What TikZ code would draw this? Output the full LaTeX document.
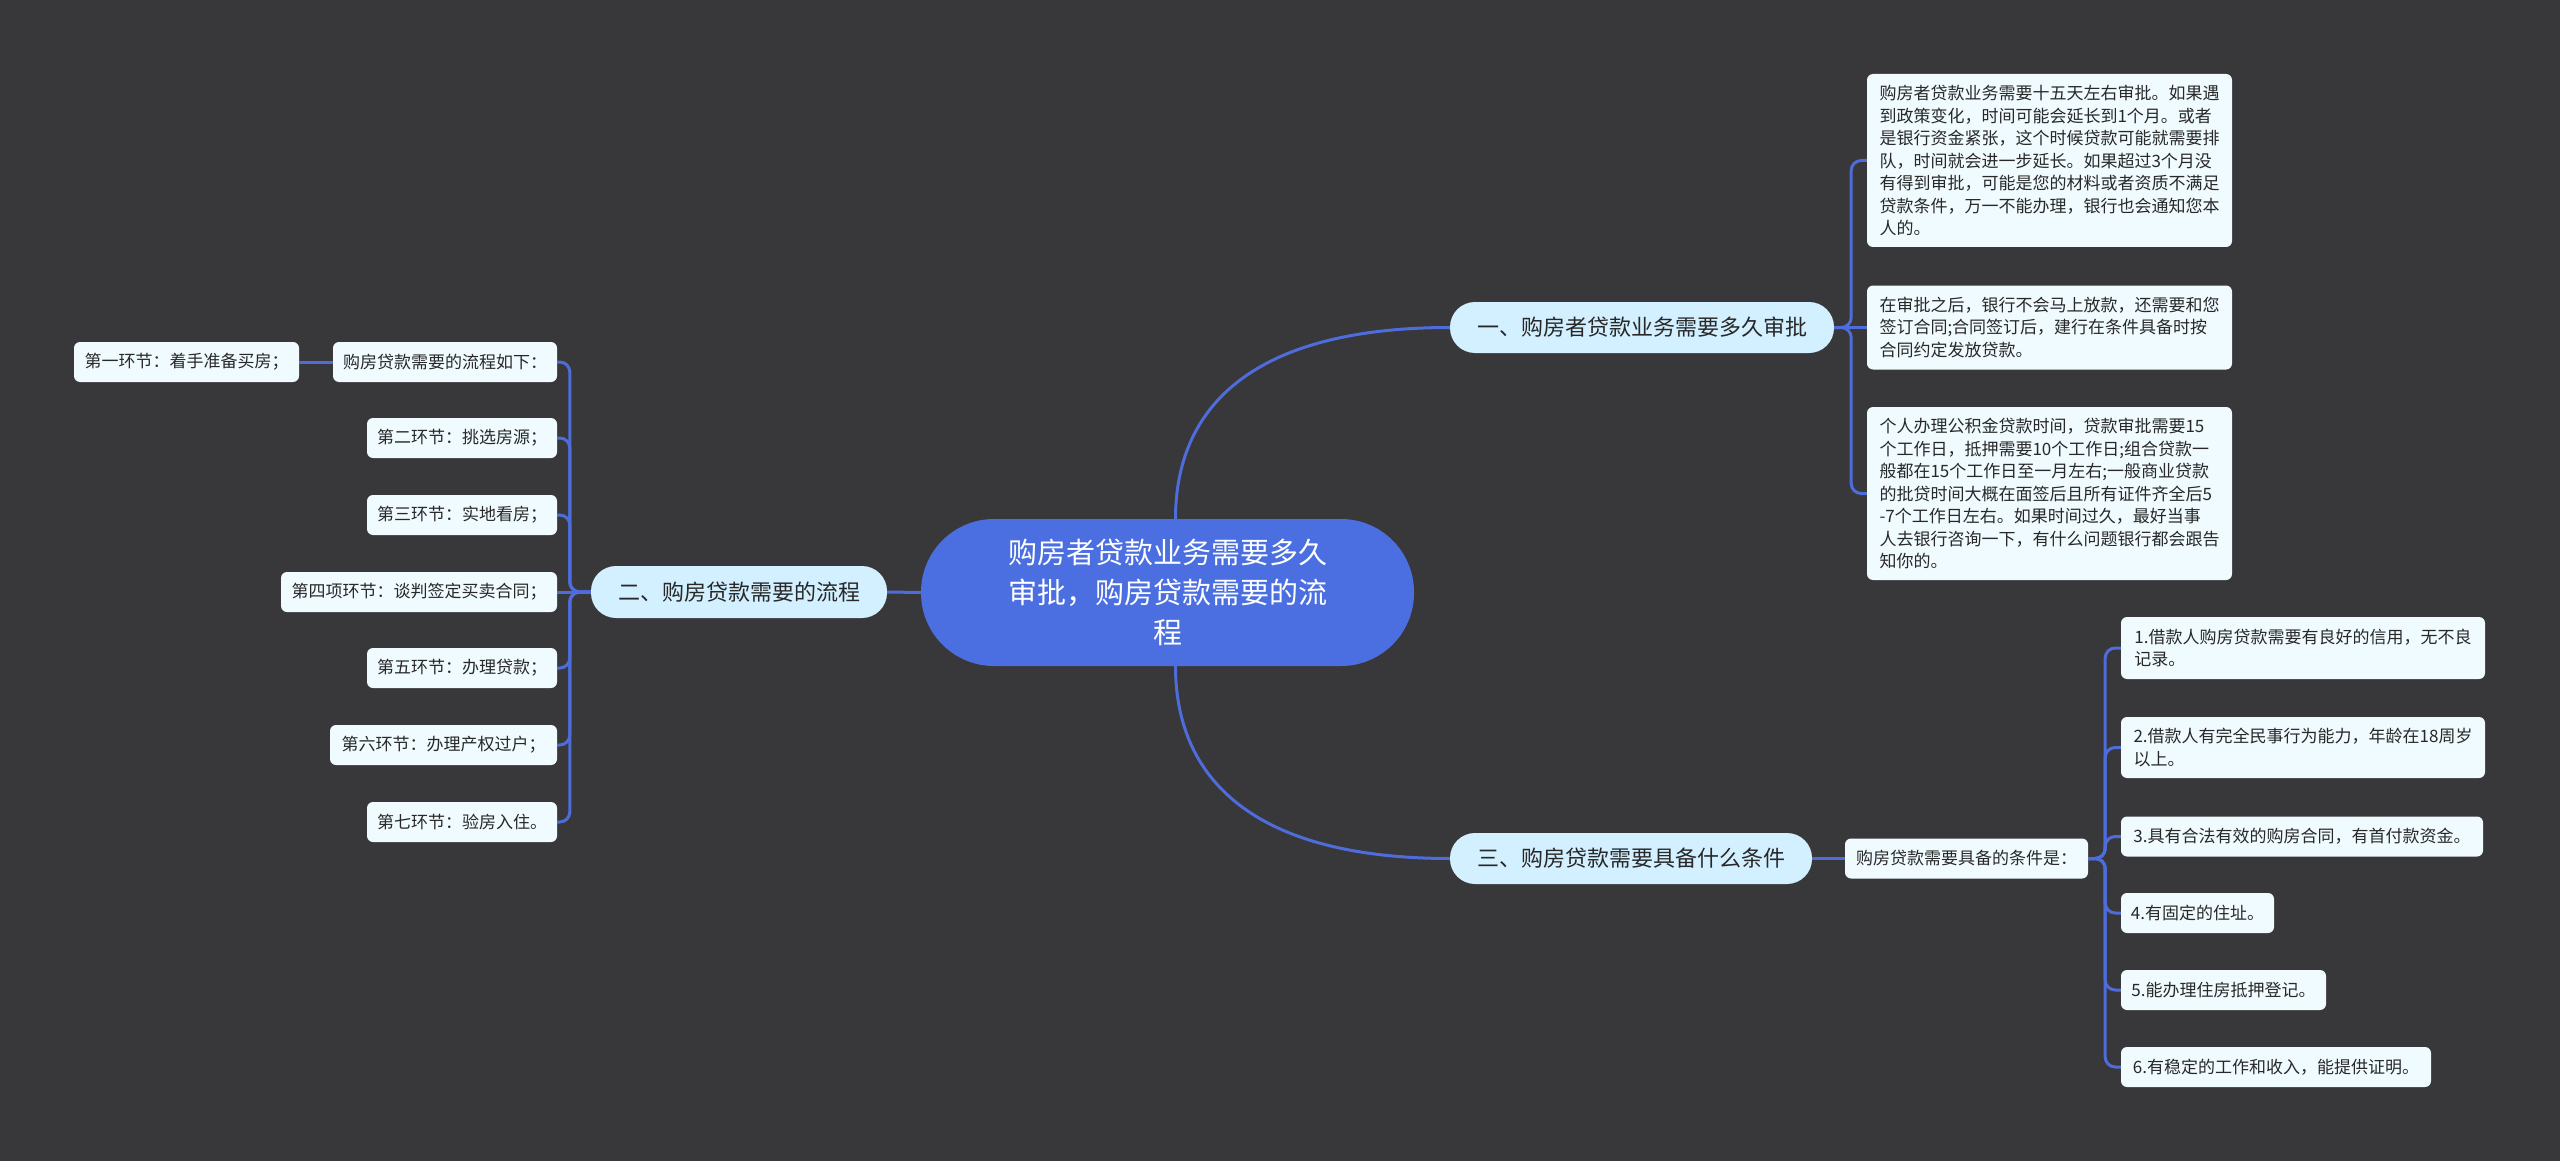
\documentclass[tikz,border=0pt]{standalone}
\usepackage{fontspec}
\newfontfamily\cjk{Noto Sans CJK SC}
\definecolor{bgc}{RGB}{56,55,57}
\definecolor{rootc}{RGB}{75,111,224}
\definecolor{linec}{RGB}{78,108,218}
\definecolor{topicc}{RGB}{210,240,255}
\definecolor{leafc}{RGB}{240,251,255}
\definecolor{textc}{RGB}{40,40,40}
\begin{document}
\begin{tikzpicture}[x=1pt,y=-1pt,
  link/.style={draw=linec,line width=3},
  rootbox/.style={rectangle,rounded corners=73,fill=rootc,text=white,font=\cjk\fontsize{29}{40}\selectfont,align=center,inner sep=0,minimum width=493,minimum height=147},
  topic/.style={rectangle,rounded corners=25,fill=topicc,text=textc,font=\cjk\fontsize{22}{26}\selectfont,inner sep=0,minimum height=51},
  leaf/.style={rectangle,rounded corners=6,fill=leafc,text=textc,font=\cjk\fontsize{17}{22.5}\selectfont,align=left,inner sep=0}]
\useasboundingbox (0,0) rectangle (2560,1161);
\fill[bgc] (0,0) rectangle (2560,1161);

% root
\node[rootbox] (c) at (1167.5,592.5) {购房者贷款业务需要多久\\审批，购房贷款需要的流\\程};

% topics
\node[topic,minimum width=384] (b1) at (1642,327.5) {一、购房者贷款业务需要多久审批};
\node[topic,minimum width=296,minimum height=52] (b2) at (739,592) {二、购房贷款需要的流程};
\node[topic,minimum width=362] (b3) at (1631,858.5) {三、购房贷款需要具备什么条件};

% branch 1 leaves
\node[leaf,minimum width=365,minimum height=173] (l1a) at (2049.5,160.5) {购房者贷款业务需要十五天左右审批。如果遇\\到政策变化，时间可能会延长到1个月。或者\\是银行资金紧张，这个时候贷款可能就需要排\\队，时间就会进一步延长。如果超过3个月没\\有得到审批，可能是您的材料或者资质不满足\\贷款条件，万一不能办理，银行也会通知您本\\人的。};
\node[leaf,minimum width=365,minimum height=84] (l1b) at (2049.5,327.5) {在审批之后，银行不会马上放款，还需要和您\\签订合同;合同签订后，建行在条件具备时按\\合同约定发放贷款。};
\node[leaf,minimum width=365,minimum height=173] (l1c) at (2049.5,493.5) {个人办理公积金贷款时间，贷款审批需要15\\个工作日，抵押需要10个工作日;组合贷款一\\般都在15个工作日至一月左右;一般商业贷款\\的批贷时间大概在面签后且所有证件齐全后5\\-7个工作日左右。如果时间过久，最好当事\\人去银行咨询一下，有什么问题银行都会跟告\\知你的。};

% branch 2 leaves
\node[leaf,minimum width=225,minimum height=40] (p0) at (186.5,362) {第一环节：着手准备买房；};
\node[leaf,minimum width=224,minimum height=40] (p1) at (445,362) {购房贷款需要的流程如下：};
\node[leaf,minimum width=190,minimum height=40] (p2) at (462,438) {第二环节：挑选房源；};
\node[leaf,minimum width=190,minimum height=40] (p3) at (462,515) {第三环节：实地看房；};
\node[leaf,minimum width=276,minimum height=40] (p4) at (419,592) {第四项环节：谈判签定买卖合同；};
\node[leaf,minimum width=190,minimum height=40] (p5) at (462,668) {第五环节：办理贷款；};
\node[leaf,minimum width=227,minimum height=40] (p6) at (443.5,745) {第六环节：办理产权过户；};
\node[leaf,minimum width=190,minimum height=40] (p7) at (462,822) {第七环节：验房入住。};

% branch 3 leaves
\node[leaf,minimum width=243,minimum height=40] (q0) at (1966.5,858.5) {购房贷款需要具备的条件是：};
\node[leaf,minimum width=364,minimum height=62] (q1) at (2303,648) {1.借款人购房贷款需要有良好的信用，无不良\\记录。};
\node[leaf,minimum width=364,minimum height=61] (q2) at (2303,747.5) {2.借款人有完全民事行为能力，年龄在18周岁\\以上。};
\node[leaf,minimum width=362,minimum height=40] (q3) at (2302,836.5) {3.具有合法有效的购房合同，有首付款资金。};
\node[leaf,minimum width=153,minimum height=40] (q4) at (2197.5,913) {4.有固定的住址。};
\node[leaf,minimum width=205,minimum height=40] (q5) at (2223.5,990) {5.能办理住房抵押登记。};
\node[leaf,minimum width=310,minimum height=40] (q6) at (2276,1067) {6.有稳定的工作和收入，能提供证明。};

% root connectors
\draw[link] ([xshift=8]c.north) .. controls +(0,-110) and +(-200,0) .. (b1.west);
\draw[link] ([xshift=8]c.south) .. controls +(0,110) and +(-200,0) .. (b3.west);
\draw[link] (c.west) -- (b2.east);

% branch 1
\draw[link] (b1.east) -- (l1b.west);
\draw[link,rounded corners=10] (b1.east) -- ++(17,0) |- (l1a.west);
\draw[link,rounded corners=10] (b1.east) -- ++(17,0) |- (l1c.west);

% branch 2
\draw[link] (b2.west) -- (p4.east);
\foreach \n in {p1,p2,p3,p5,p6,p7}
  \draw[link,rounded corners=10] (b2.west) -- ++(-21,0) |- (\n.east);
\draw[link] (p1.west) -- (p0.east);

% branch 3
\draw[link] (b3.east) -- (q0.west);
\foreach \n in {q1,q2,q3,q4,q5,q6}
  \draw[link,rounded corners=10] (q0.east) -- ++(17,0) |- (\n.west);
\end{tikzpicture}
\end{document}
